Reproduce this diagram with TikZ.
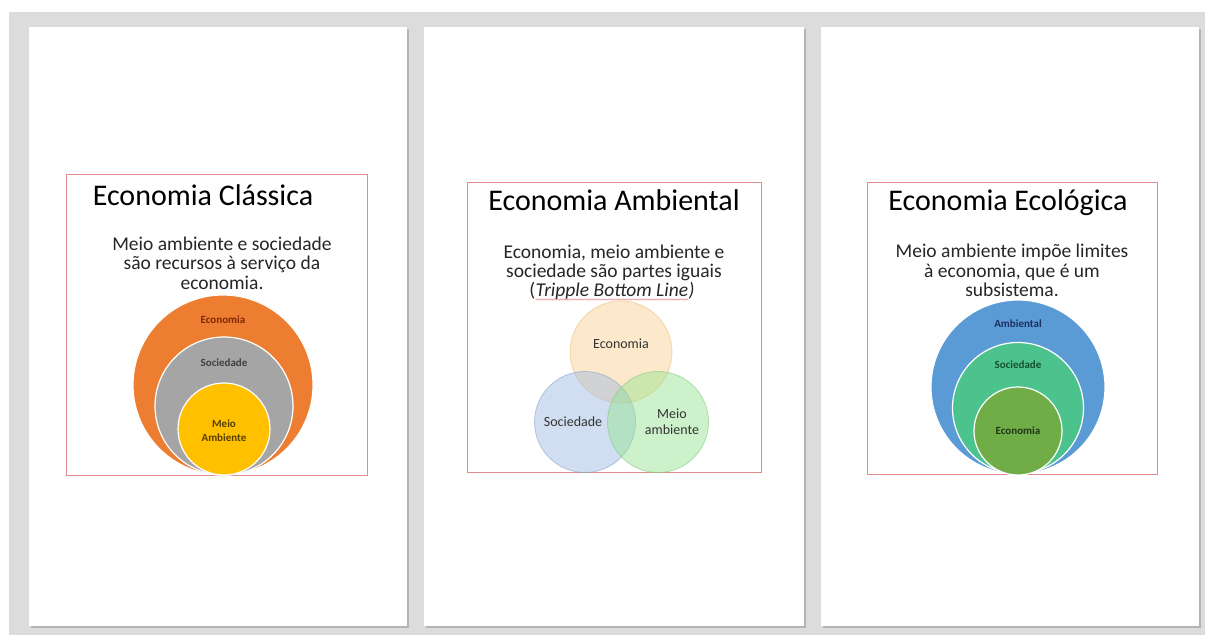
\documentclass[tikz,border=0pt]{standalone}
\usepackage{fontspec}
\setmainfont{Carlito}
\usetikzlibrary{decorations.pathmorphing}

\definecolor{deskgray}{HTML}{DCDCDC}
\definecolor{shadowgray}{HTML}{B4B4B4}
\definecolor{framered}{HTML}{E38C8C}
\definecolor{ecoorange}{HTML}{ED7D31}
\definecolor{socgray}{HTML}{A5A5A5}
\definecolor{envyellow}{HTML}{FFC000}
\definecolor{envblue}{HTML}{5B9BD5}
\definecolor{socgreen}{HTML}{4CC38C}
\definecolor{ecoolive}{HTML}{70AD47}
\definecolor{vennorange}{HTML}{F9CC8A}
\definecolor{vennblue}{HTML}{9BB8E2}
\definecolor{venngreen}{HTML}{92E48C}

\tikzset{
  page/.style={fill=white, draw=none},
  pageshadow/.style={fill=shadowgray, draw=none},
  frame/.style={draw=framered, line width=0.9pt},
  titletext/.style={font=\fontsize{30}{33}\selectfont, anchor=base, inner sep=0pt},
  subtext/.style={font=\fontsize{19.5}{21}\selectfont, anchor=base, inner sep=0pt, text=black!85},
  disc/.style={circle, draw=white, line width=1.2pt, inner sep=0pt},
  disclabel/.style={font=\fontsize{11}{12}\selectfont\bfseries, anchor=base, inner sep=0pt, align=center},
  venn/.style={circle, inner sep=0pt, fill opacity=0.45, line width=0.8pt},
  vennlabel/.style={font=\fontsize{14}{15}\selectfont, anchor=base, inner sep=0pt, align=center, text=black!80},
}

\begin{document}
\begin{tikzpicture}[x=1pt, y=-1pt]
\useasboundingbox (0,0) rectangle (1205,635);

% desk background
\fill[white] (0,0) rectangle (1205,635);
\fill[deskgray] (9,12) rectangle (1205,635);

% pages with a soft drop shadow
\foreach \xl/\xr in {29/407, 424/804, 821/1199}{
  \fill[pageshadow] (\xl+1.5,28.5) rectangle (\xr+2,627.5);
  \fill[page] (\xl,27) rectangle (\xr,626);
}

% ---------- Economia Clássica ----------
\draw[frame] (66,174) rectangle (367,475);
\node[titletext] (t1) at (203,205) {Economia Clássica};
\node[subtext] (s1a) at (222,250) {Meio ambiente e sociedade};
\node[subtext] (s1b) at (222,269) {são recursos à serviço da};
\node[subtext] (s1c) at (222,289) {economia.};

\node[disc, fill=ecoorange, minimum size=180pt] (c1eco) at (223,385) {};
\node[disc, fill=socgray, minimum size=138pt] (c1soc) at (224,406) {};
\node[disc, fill=envyellow, minimum size=92pt] (c1env) at (224,429) {};
\node[disclabel, text={rgb,255:red,125;green,40;blue,10}] (l1eco) at (223,323) {Economia};
\node[disclabel, text=black!75] (l1soc) at (224,366) {Sociedade};
\node[disclabel, text={rgb,255:red,85;green,62;blue,0}] (l1env) at (224,427) {Meio};
\node[disclabel, text={rgb,255:red,85;green,62;blue,0}] (l1env2) at (224,441) {Ambiente};

% ---------- Economia Ambiental ----------
\draw[frame] (467,182) rectangle (761,472);
\node[titletext] (t2) at (614,210) {Economia Ambiental};
\node[subtext] (s2a) at (614,258) {Economia, meio ambiente e};
\node[subtext] (s2b) at (614,277) {sociedade são partes iguais};
\node[subtext, font=\fontsize{19.5}{21}\selectfont\itshape] (tbl) at (612,296) {Tripple Bottom Line};
\node[subtext, anchor=base east] (po) at (tbl.base west) {(};
\node[subtext, anchor=base west, font=\fontsize{19.5}{21}\selectfont\itshape] (pc) at (tbl.base east) {)};
\draw[framered, line width=0.6pt, decorate, decoration={snake, amplitude=0.7pt, segment length=3pt}]
  ([yshift=-3.5pt]tbl.base west) -- ([yshift=-3.5pt]tbl.base east);

\node[venn, fill=vennorange, draw=vennorange!85!brown, draw opacity=0.6, minimum size=102pt] (v2eco) at (621,352) {};
\node[venn, fill=vennblue, draw=vennblue!90!black, draw opacity=0.6, minimum size=101pt] (v2soc) at (585,422) {};
\node[venn, fill=venngreen, draw=venngreen!90!black, draw opacity=0.6, minimum size=101pt] (v2env) at (658,422) {};
\node[vennlabel] (l2eco) at (621,348) {Economia};
\node[vennlabel] (l2soc) at (573,426) {Sociedade};
\node[vennlabel] (l2env) at (672,418) {Meio};
\node[vennlabel] (l2env2) at (672,434) {ambiente};

% ---------- Economia Ecológica ----------
\draw[frame] (867,182) rectangle (1157,474);
\node[titletext] (t3) at (1008,210) {Economia Ecológica};
\node[subtext] (s3a) at (1012,257) {Meio ambiente impõe limites};
\node[subtext] (s3b) at (1012,277) {à economia, que é um};
\node[subtext] (s3c) at (1012,296) {subsistema.};

\node[disc, fill=envblue, minimum size=174pt] (c3env) at (1018,387) {};
\node[disc, fill=socgreen, minimum size=131pt] (c3soc) at (1018,408) {};
\node[disc, fill=ecoolive, minimum size=88pt] (c3eco) at (1018,431) {};
\node[disclabel, text={rgb,255:red,28;green,48;blue,95}] (l3env) at (1018,327) {Ambiental};
\node[disclabel, text={rgb,255:red,22;green,80;blue,45}] (l3soc) at (1018,368) {Sociedade};
\node[disclabel, text={rgb,255:red,30;green,55;blue,20}] (l3eco) at (1018,434) {Economia};
\end{tikzpicture}
\end{document}
